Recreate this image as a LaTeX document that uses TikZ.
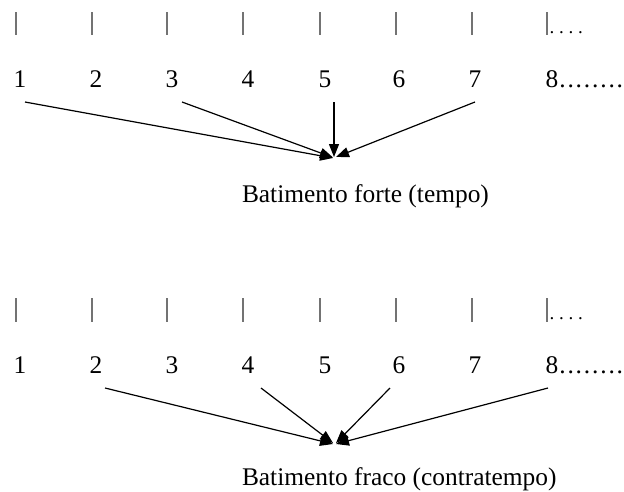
\documentclass[tikz,border=0pt]{standalone}
\usepackage{fontspec}
\setmainfont{Liberation Serif}
\usetikzlibrary{arrows.meta}
\newcommand\mydot{\makebox[8.2pt][c]{.}}
\newcommand\mybardot{\makebox[9.5pt][c]{.}}
\begin{document}
\begin{tikzpicture}[x=1pt,y=-1pt,
  every node/.style={inner sep=0pt,outer sep=0pt,font=\fontsize{25.4}{30}\selectfont},
  num/.style={anchor=base},
  lbl/.style={anchor=base west},
  bar/.style={draw=black!55,line width=1.1pt},
  arr/.style={draw=black,line width=1.2pt,-{Triangle[length=13pt,width=10pt]}},
  dots/.style={anchor=base west,font=\fontsize{19}{22}\selectfont}]
\useasboundingbox (0,0) rectangle (624,491);
% ---------- top ----------
\foreach \i/\x in {1/16,2/92,3/167,4/243,5/320,6/396,7/472,8/547}{
  \coordinate (ta\i) at (\x,12);
  \coordinate (tb\i) at (\x,35);
  \draw[bar] (ta\i) -- (tb\i);
}
\node[dots] (tdots) at (547.3,33) {\mybardot\mybardot\mybardot\mybardot};
\foreach \i/\x in {1/20,2/96,3/172,4/248,5/325,6/399,7/475}{
  \node[num] (t\i) at (\x,87.5) {\i};
}
\node[lbl] (t8) at (545.7,87.5) {8\mydot\mydot\mydot\mydot\mydot\mydot\mydot\mydot};
\coordinate (ts1) at (25,102);
\coordinate (ts3) at (182,102);
\coordinate (ts5) at (334,102);
\coordinate (ts7) at (475,102);
\coordinate (te1) at (333,158);
\coordinate (te3) at (333,157.5);
\coordinate (te5) at (334,157);
\coordinate (te7) at (336,157);
\draw[arr] (ts1) -- (te1);
\draw[arr] (ts3) -- (te3);
\draw[arr] (ts5) -- (te5);
\draw[arr] (ts7) -- (te7);
\node[lbl] (tl) at (242,202) {Batimento forte (tempo)};
% ---------- bottom ----------
\foreach \i/\x in {1/16,2/92,3/167,4/243,5/320,6/396,7/472,8/547}{
  \coordinate (ba\i) at (\x,298);
  \coordinate (bb\i) at (\x,322);
  \draw[bar] (ba\i) -- (bb\i);
}
\node[dots] (bdots) at (547.3,319) {\mybardot\mybardot\mybardot\mybardot};
\foreach \i/\x in {1/20,2/96,3/172,4/248,5/325,6/399,7/475}{
  \node[num] (b\i) at (\x,373.5) {\i};
}
\node[lbl] (b8) at (545.7,373.5) {8\mydot\mydot\mydot\mydot\mydot\mydot\mydot\mydot};
\coordinate (bs2) at (105,388);
\coordinate (bs4) at (261,388);
\coordinate (bs6) at (390,388);
\coordinate (bs8) at (548,388);
\coordinate (be2) at (333,444);
\coordinate (be4) at (333,443);
\coordinate (be6) at (336,443);
\coordinate (be8) at (336,444);
\draw[arr] (bs2) -- (be2);
\draw[arr] (bs4) -- (be4);
\draw[arr] (bs6) -- (be6);
\draw[arr] (bs8) -- (be8);
\node[lbl] (bl) at (242,485) {Batimento fraco (contratempo)};
\end{tikzpicture}
\end{document}
